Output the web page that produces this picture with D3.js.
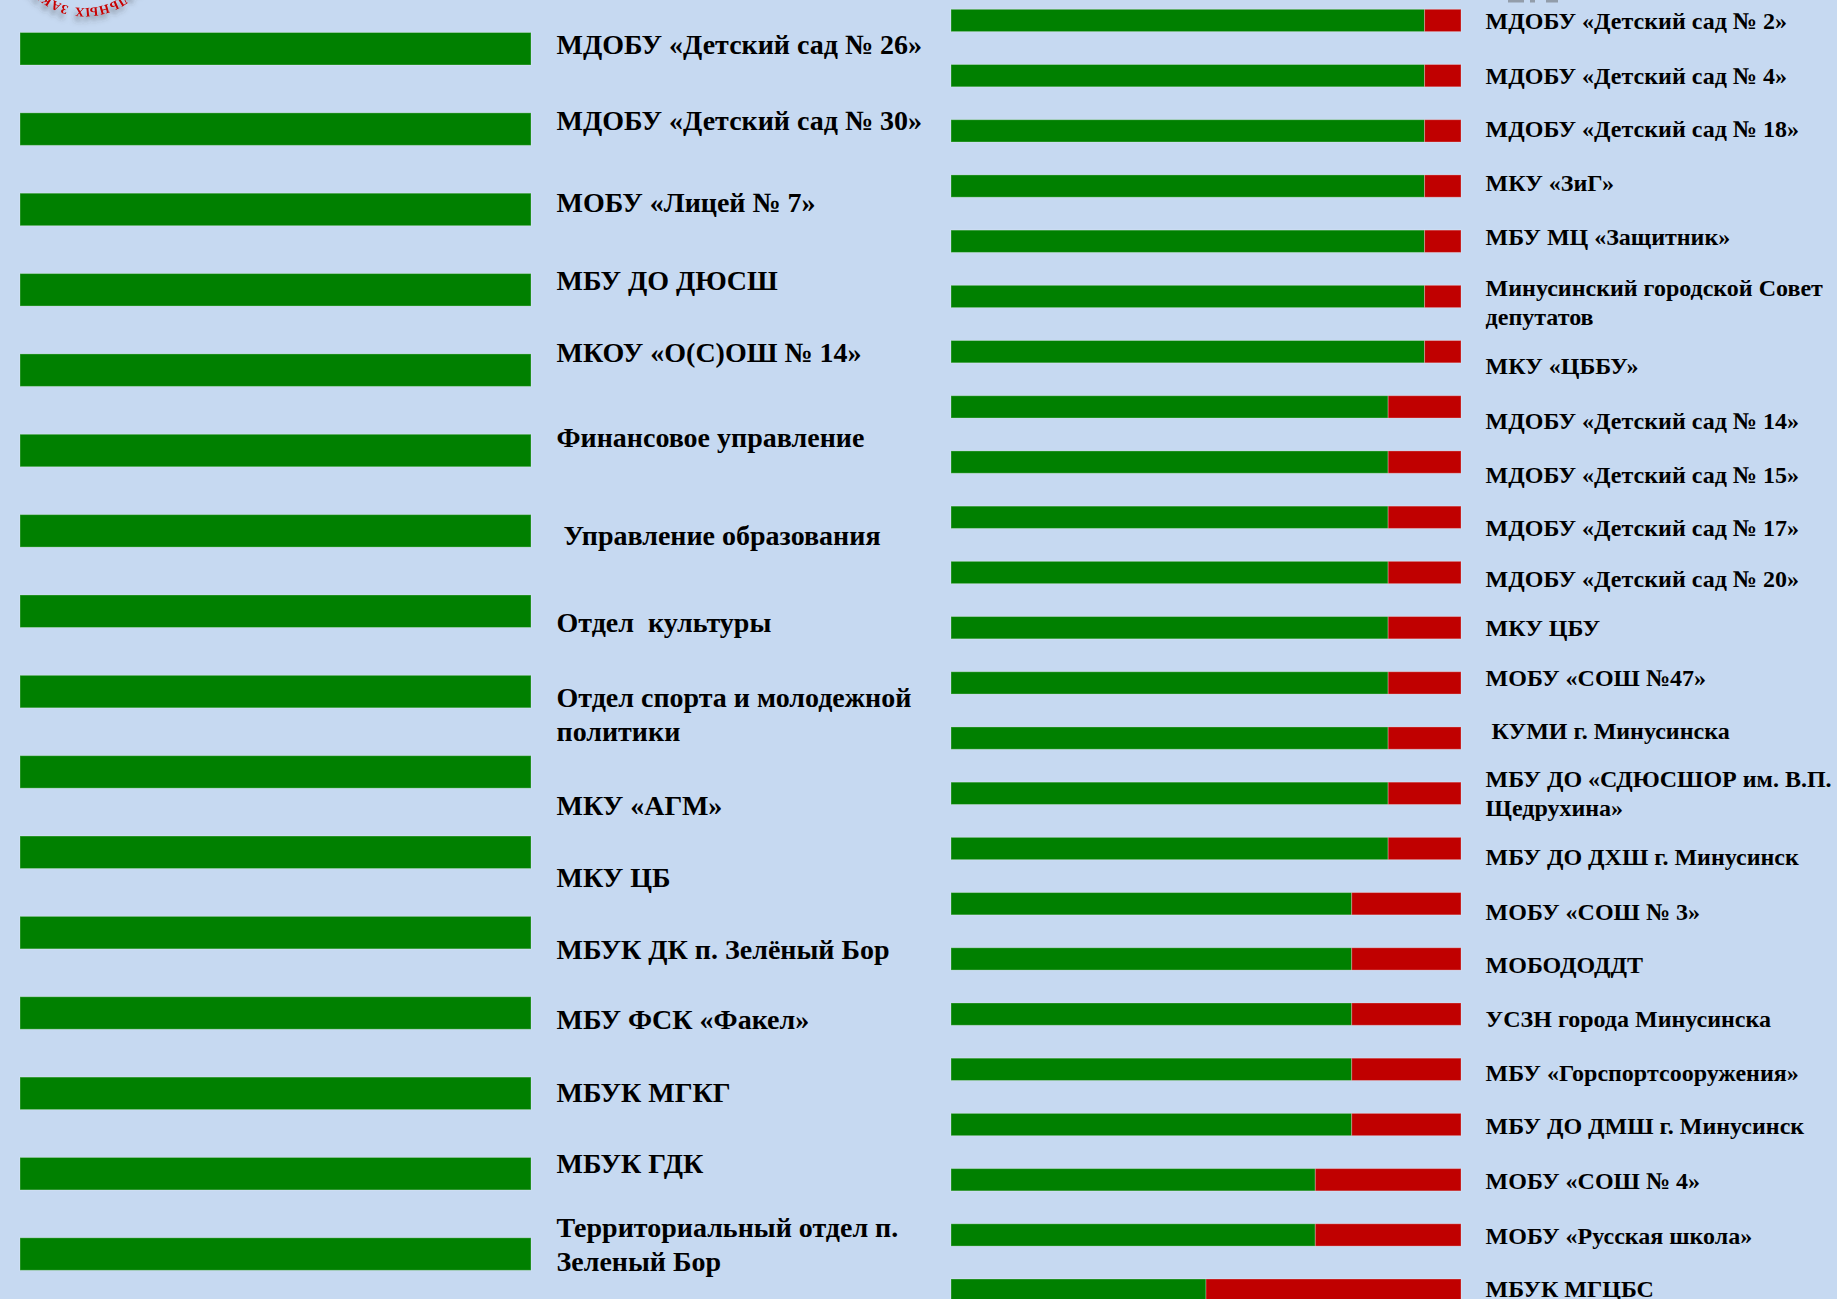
<!DOCTYPE html>
<html>
<head>
<meta charset="utf-8">
<script src="https://cdn.jsdelivr.net/npm/d3@7"></script>
<style>
html,body{margin:0;padding:0;background:#C6D9F1;overflow:hidden}
svg{display:block}
</style>
</head>
<body>
<svg id="chart" width="1837" height="1299"></svg>
<script>
// ---------------- DATA ----------------
const maxScore = 14;

const leftNames = [
  "МДОБУ «Детский сад № 26»",
  "МДОБУ «Детский сад № 30»",
  "МОБУ «Лицей № 7»",
  "МБУ ДО ДЮСШ",
  "МКОУ «О(С)ОШ № 14»",
  "Финансовое управление",
  " Управление образования",
  "Отдел  культуры",
  "Отдел спорта и молодежной\nполитики",
  "МКУ «АГМ»",
  "МКУ ЦБ",
  "МБУК ДК п. Зелёный Бор",
  "МБУ ФСК «Факел»",
  "МБУК МГКГ",
  "МБУК ГДК",
  "Территориальный отдел п.\nЗеленый Бор"
];
const leftScores = [14,14,14,14,14,14,14,14,14,14,14,14,14,14,14,14];

const rightNames = [
  "МДОБУ «Детский сад № 2»",
  "МДОБУ «Детский сад № 4»",
  "МДОБУ «Детский сад № 18»",
  "МКУ «ЗиГ»",
  "МБУ МЦ «Защитник»",
  "Минусинский городской Совет\nдепутатов",
  "МКУ «ЦББУ»",
  "МДОБУ «Детский сад № 14»",
  "МДОБУ «Детский сад № 15»",
  "МДОБУ «Детский сад № 17»",
  "МДОБУ «Детский сад № 20»",
  "МКУ ЦБУ",
  "МОБУ «СОШ №47»",
  " КУМИ г. Минусинска",
  "МБУ ДО «СДЮСШОР им. В.П.\nЩедрухина»",
  "МБУ ДО ДХШ г. Минусинск",
  "МОБУ «СОШ № 3»",
  "МОБОДОДДТ",
  "УСЗН города Минусинска",
  "МБУ «Горспортсооружения»",
  "МБУ ДО ДМШ г. Минусинск",
  "МОБУ «СОШ № 4»",
  "МОБУ «Русская школа»",
  "МБУК МГЦБС"
];
const rightScores = [13,13,13,13,13,13,13,12,12,12,12,12,12,12,12,12,11,11,11,11,11,10,10,7];

// ---------------- LAYOUT (not data) ----------------
const W = 1837, H = 1299;
const colors = { ok: "#008000", miss: "#C00000", bg: "#C6D9F1", text: "#000000", seal: "#C80000" };
// vertical nudges of the text boxes relative to their bars (px)
const leftNudge  = [-4,-8,-7,-9,-17,-13,5,12,23,34,25,17,7,-1,-10,-9];
const rightNudge = [1,0,-2,-3,-4,6,14,14,13,11,7,0,-5,-7,0,9,8,6,5,4,2,1,1,-1];

const svg = d3.select("#chart");
svg.append("rect").attr("width", W).attr("height", H).attr("fill", colors.bg);

// ---- seal fragment (top-left) ----
const defs = svg.append("defs");
const flt = defs.append("filter").attr("id", "sh")
  .attr("x", "-30%").attr("y", "-30%").attr("width", "160%").attr("height", "180%");
flt.append("feDropShadow").attr("dx", 2).attr("dy", -5).attr("stdDeviation", 2.5)
  .attr("flood-color", "#3a3a3a").attr("flood-opacity", 0.55);
const sealR = 66;
const seal = svg.append("g").attr("transform", "translate(85,-58) rotate(180)");
seal.append("path").attr("id", "sealArc")
  .attr("d", `M ${-sealR},0 A ${sealR},${sealR} 0 0 1 ${sealR},0 A ${sealR},${sealR} 0 0 1 ${-sealR},0`)
  .attr("fill", "none");
const halfArc = Math.PI * sealR / 2;
const sealText = seal.append("g").attr("filter", "url(#sh)");
sealText.append("text")
  .attr("font-family", "Liberation Serif, serif").attr("font-weight", "bold")
  .attr("font-size", 13).attr("letter-spacing", 0.5).attr("fill", colors.seal).attr("text-anchor", "end")
  .append("textPath").attr("href", "#sealArc").attr("startOffset", halfArc + 10)
  .text("МУНИЦИПАЛЬНЫХ");
sealText.append("text")
  .attr("font-family", "Liberation Serif, serif").attr("font-weight", "bold")
  .attr("font-size", 13).attr("letter-spacing", 0.5).attr("fill", colors.seal).attr("text-anchor", "start")
  .append("textPath").attr("href", "#sealArc").attr("startOffset", halfArc + 16)
  .text("ЗАКУПОК");

// ---- faint fragment top-right ----
svg.append("g").attr("opacity", 0.45).selectAll("rect")
  .data([[1508, 16], [1530, 5], [1546, 12]])
  .join("rect")
  .attr("x", d => d[0]).attr("y", 0).attr("width", d => d[1]).attr("height", 2.5)
  .attr("fill", "#555");

// ---------------- PANELS ----------------
function panel(cfg) {
  const x = d3.scaleLinear().domain([0, maxScore]).range(cfg.xRange);
  const y = d3.scaleBand().domain(cfg.names.map((d, i) => i))
    .range(cfg.yRange).paddingInner(cfg.pad).paddingOuter(0);

  const rows = cfg.names.map((name, i) => ({ i, name, score: cfg.scores[i] }));
  const stack = d3.stack().keys(["ok", "miss"])(
    rows.map(r => ({ i: r.i, ok: r.score, miss: maxScore - r.score }))
  );

  const g = svg.append("g");
  g.selectAll("g.layer").data(stack).join("g")
    .attr("class", "layer")
    .attr("fill", d => colors[d.key])
    .selectAll("rect").data(d => d.filter(s => s[1] > s[0])).join("rect")
    .attr("x", s => x(s[0]))
    .attr("width", s => x(s[1]) - x(s[0]))
    .attr("y", s => y(s.data.i))
    .attr("height", y.bandwidth())
    .attr("stroke", "rgba(255,255,255,0.28)")
    .attr("stroke-width", 1);

  const lx = cfg.xRange[1] + cfg.labelGap;
  const t = g.selectAll("text.lbl").data(rows).join("text")
    .attr("class", "lbl")
    .attr("font-family", "Liberation Serif, 'Times New Roman', serif")
    .attr("font-weight", "bold")
    .attr("font-size", cfg.fs)
    .attr("fill", colors.text)
    .style("white-space", "pre");
  t.each(function (r) {
    const lines = r.name.split("\n");
    const cy = y(r.i) + y.bandwidth() / 2 + cfg.nudge[r.i];
    const top = cy - (lines.length - 1) * cfg.lh / 2;
    d3.select(this).selectAll("tspan").data(lines).join("tspan")
      .attr("x", lx)
      .attr("y", (l, k) => top + k * cfg.lh + cfg.fs * 0.33)
      .text(l => l);
  });
}

panel({
  names: leftNames, scores: leftScores,
  xRange: [20, 531], yRange: [32.5, 1270.3], pad: 0.5955,
  labelGap: 25.5, fs: 28, lh: 34, nudge: leftNudge
});
panel({
  names: rightNames, scores: rightScores,
  xRange: [951, 1461], yRange: [9.3, 1301.3], pad: 0.596,
  labelGap: 24.6, fs: 24, lh: 29, nudge: rightNudge
});
</script>
</body>
</html>
